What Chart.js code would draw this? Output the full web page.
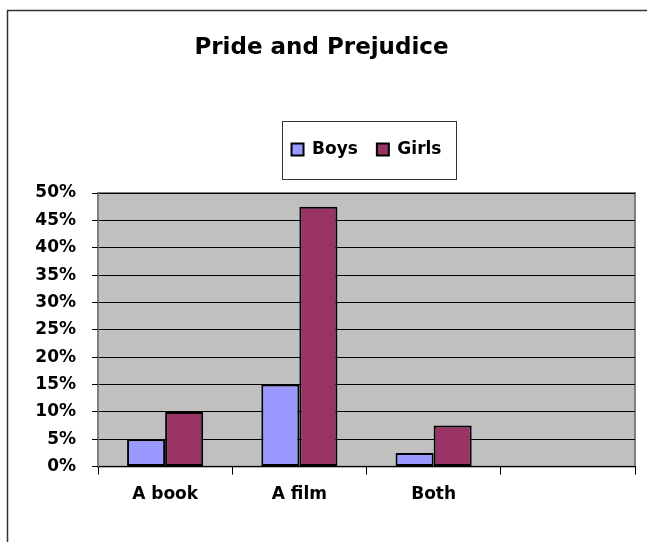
<!DOCTYPE html>
<html>
<head>
<meta charset="utf-8">
<script src="https://cdn.jsdelivr.net/npm/chart.js@4"></script>
<style>
  body{margin:0;background:#fff;overflow:hidden;}
  #wrap{width:647px;height:542px;}
</style>
</head>
<body>
<div id="wrap"><canvas id="chart" width="647" height="542"></canvas></div>
<script>
// data
let categories = ["A book", "A film", "Both", ""];
let boys = [0.05, 0.15, 0.025, null];
let girls = [0.10, 0.475, 0.075, null];
let yMax = 0.5;
let yStep = 0.05;

let fontName = "'DejaVu Sans', sans-serif";

// frame, plot background, legend box
let decor = {
  id: "decor",
  beforeDraw(chart){
    let ctx = chart.ctx;
    let a = chart.chartArea;
    ctx.save();
    ctx.strokeStyle = "#333";
    ctx.lineWidth = 1.5;
    ctx.beginPath();
    ctx.moveTo(7.5, 542);
    ctx.lineTo(7.5, 10.5);
    ctx.lineTo(647, 10.5);
    ctx.stroke();
    ctx.fillStyle = "#C0C0C0";
    ctx.fillRect(a.left, a.top, a.right - a.left, a.bottom - a.top);
    ctx.strokeStyle = "#808080";
    ctx.lineWidth = 2;
    ctx.strokeRect(a.left, a.top, a.right - a.left, a.bottom - a.top);
    ctx.restore();
  },
  afterDraw(chart){
    let lg = chart.legend;
    if(!lg || !lg.legendHitBoxes.length) return;
    let hb = lg.legendHitBoxes;
    let l = Math.min(...hb.map(h => h.left));
    let r = Math.max(...hb.map(h => h.left + h.width));
    let cx = (l + r) / 2 + 2;
    let cy = hb[0].top + hb[0].height / 2;
    let ctx = chart.ctx;
    ctx.save();
    ctx.strokeStyle = "#333";
    ctx.lineWidth = 1;
    ctx.strokeRect(Math.round(cx - 87) + 0.5, Math.round(cy - 29) + 0.5, 174, 58);
    ctx.restore();
  }
};

let ctx = document.getElementById("chart").getContext("2d");

let chart = new Chart(ctx, {
  type: "bar",
  data: {
    labels: categories,
    datasets: [
      {
        label: "Boys",
        data: boys,
        backgroundColor: "#9999FF",
        borderColor: "#000",
        borderWidth: 2,
        borderSkipped: false
      },
      {
        label: "Girls",
        data: girls,
        backgroundColor: "#993366",
        borderColor: "#000",
        borderWidth: 2,
        borderSkipped: false
      }
    ]
  },
  options: {
    responsive: false,
    animation: false,
    layout: { padding: { left: 8, right: 12, top: 0, bottom: 27 } },
    datasets: {
      bar: { categoryPercentage: 0.567, barPercentage: 1 }
    },
    plugins: {
      title: {
        display: true,
        text: "Pride and Prejudice",
        color: "#000",
        font: { family: fontName, size: 23, weight: "bold" },
        padding: { top: 34, bottom: 60.4 }
      },
      legend: {
        display: true,
        position: "top",
        fullSize: false,
        labels: {
          color: "#000",
          font: { family: fontName, size: 17, weight: "bold" },
          boxWidth: 12,
          boxHeight: 12,
          padding: 19
        }
      },
      // empty spacer between legend and plot
      subtitle: {
        display: true,
        text: "",
        weight: 500,
        font: { size: 10, lineHeight: 1 },
        padding: { top: 0, bottom: 15 }
      },
      tooltip: { enabled: false }
    },
    scales: {
      x: {
        offset: true,
        grid: {
          offset: true,
          drawOnChartArea: false,
          color: "#000",
          tickLength: 8
        },
        border: { color: "#000", width: 1 },
        ticks: {
          color: "#000",
          padding: 10,
          maxRotation: 0,
          font: { family: fontName, size: 17, weight: "bold" }
        }
      },
      y: {
        min: 0,
        max: yMax,
        afterFit(scale){ scale.width = 90; },
        grid: { color: "#000", tickLength: 6 },
        border: { color: "#808080", width: 1 },
        ticks: {
          stepSize: yStep,
          color: "#000",
          padding: 16,
          font: { family: fontName, size: 17, weight: "bold" },
          callback: v => Math.round(v * 100) + "%"
        }
      }
    }
  },
  plugins: [decor]
});
</script>
</body>
</html>
